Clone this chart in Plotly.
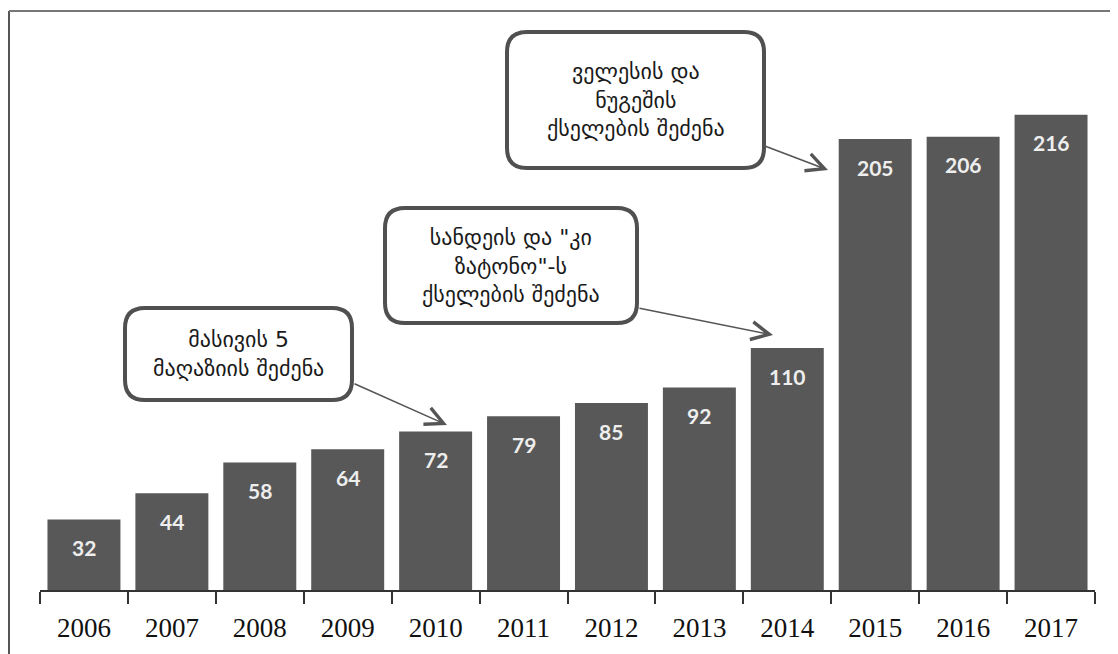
import plotly.graph_objects as go

years = ["2006", "2007", "2008", "2009", "2010", "2011", "2012", "2013", "2014", "2015", "2016", "2017"]
stores = [32, 44, 58, 64, 72, 79, 85, 92, 110, 205, 206, 216]

notes = [
    "მასივის 5<br>მაღაზიის შეძენა",
    "სანდეის და \"კი<br>ზატონო\"-ს<br>ქსელების შეძენა",
    "ველესის და<br>ნუგეშის<br>ქსელების შეძენა",
]

OFF = 8  # page body margin: figure drawn at (8, 8) in the window
W, H = 1118 - OFF, 654 - OFF
L, R, T, B = 40 - OFF, 23, 20 - OFF, 64
PW, PH = W - L - R, H - T - B


def px(x):
    return (x - OFF - L) / PW


def py(y):
    return (H - B - (y - OFF)) / PH


BAR = "#585858"
EDGE = "#505050"

fig = go.Figure()
fig.add_trace(go.Bar(x=years, y=stores, marker=dict(color=BAR, line=dict(width=0)),
                     hoverinfo="skip"))

# value labels inside the bars near the top
for i, v in enumerate(stores):
    fig.add_annotation(x=i, y=v, yshift=-28, text="<b>%d</b>" % v, showarrow=False,
                       font=dict(family="Lato, Open Sans, sans-serif", size=21, color="#eeeeee"),
                       xanchor="center", yanchor="middle")


def rounded(x0, y0, x1, y1, r):
    rx, ry = r / PW, r / PH
    a, b, c, d = px(x0), py(y1), px(x1), py(y0)  # left, bottom, right, top
    return (f"M{a+rx},{b} L{c-rx},{b} Q{c},{b} {c},{b+ry} L{c},{d-ry} Q{c},{d} {c-rx},{d} "
            f"L{a+rx},{d} Q{a},{d} {a},{d-ry} L{a},{b+ry} Q{a},{b} {a+rx},{b} Z")


boxes = [(125, 308, 352, 400), (385, 208, 637, 323), (507, 32, 764, 168)]
arrows = [((353, 383), (447, 425)), ((638, 308), (773, 335)), ((762, 145), (828, 170))]

for (x0, y0, x1, y1), txt, (start, tip) in zip(boxes, notes, arrows):
    fig.add_annotation(xref="paper", yref="paper", x=px(tip[0]), y=py(tip[1]),
                       ax=start[0] - tip[0], ay=start[1] - tip[1], axref="pixel", ayref="pixel",
                       text="", showarrow=True, arrowhead=5, arrowsize=2.2, arrowwidth=1.6,
                       arrowcolor="#555555")
    fig.add_shape(type="path", xref="paper", yref="paper", path=rounded(x0, y0, x1, y1, 20),
                  line=dict(color=EDGE, width=4), fillcolor="white", layer="above")
    fig.add_annotation(xref="paper", yref="paper", x=px((x0 + x1) / 2), y=py((y0 + y1) / 2),
                       text=txt, showarrow=False, align="center",
                       font=dict(family="DejaVu Sans, sans-serif", size=22, color="#1a1a1a"),
                       xanchor="center", yanchor="middle")

# outer frame (left and top edges)
fig.add_shape(type="line", xref="paper", yref="paper", x0=px(9), y0=py(660), x1=px(9), y1=py(11),
              line=dict(color="#555555", width=2))
fig.add_shape(type="line", xref="paper", yref="paper", x0=px(9), y0=py(11), x1=px(1125), y1=py(11),
              line=dict(color="#777777", width=2))

fig.update_layout(
    width=W, height=H,
    margin=dict(l=L, r=R, t=T, b=B, autoexpand=False),
    plot_bgcolor="white", paper_bgcolor="white",
    bargap=0.17, showlegend=False,
    xaxis=dict(type="category", range=[-0.5, len(years) - 0.5], showgrid=False, showline=True,
               linecolor="#333333", linewidth=2,
               ticks="outside", tickson="boundaries", ticklen=12, tickcolor="#333333", tickwidth=2,
               ticklabelstandoff=13, tickangle=0,
               tickfont=dict(family="Liberation Serif, serif", size=27, color="#111111")),
    yaxis=dict(range=[0, PH / 2.2], visible=False, showgrid=False, zeroline=False),
)

fig.write_html("out.html")
